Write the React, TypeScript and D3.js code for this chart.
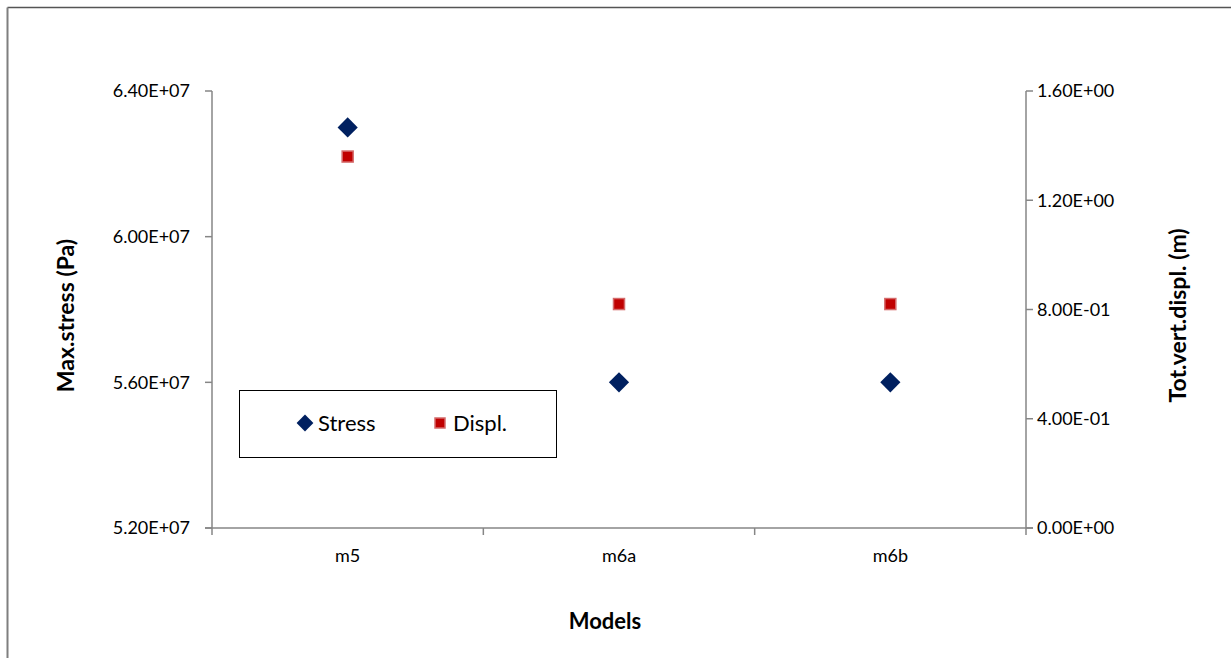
import React from "react";
import * as d3 from "d3";

const categories = ["m5", "m6a", "m6b"];
const stressValues = [6.3e7, 5.6e7, 5.6e7];
const displValues = [1.36, 0.82, 0.82];
const leftTicks = [5.2e7, 5.6e7, 6.0e7, 6.4e7];
const rightTicks = [0, 0.4, 0.8, 1.2, 1.6];
const seriesNames = ["Stress", "Displ."];

const W = 1231;
const H = 658;
const plot = { left: 212, right: 1026, top: 91, bottom: 528 };
const font = "Lato, 'Open Sans', sans-serif";
const axisColor = "#868686";

function fmtExp(v: number): string {
  const s = v.toExponential(2).toUpperCase();
  const m = s.match(/^(-?[\d.]+)E([+-])(\d+)$/);
  if (!m) return s;
  return `${m[1]}E${m[2]}${m[3].padStart(2, "0")}`;
}

export default function App() {
  const x = d3
    .scaleBand<string>()
    .domain(categories)
    .range([plot.left, plot.right])
    .padding(0);
  const yL = d3.scaleLinear().domain([5.2e7, 6.4e7]).range([plot.bottom, plot.top]);
  const yR = d3.scaleLinear().domain([0, 1.6]).range([plot.bottom, plot.top]);
  const diamond = d3.symbol().type(d3.symbolDiamond2).size(260)();
  const bw = x.bandwidth();
  const boundaries = [...categories.map((c) => x(c) as number), plot.right];

  return (
    <svg
      width={W}
      height={H}
      style={{ position: "absolute", left: 0, top: 0, background: "#fff" }}
    >
      <line x1={7.5} y1={7.5} x2={W} y2={7.5} stroke="#555" strokeWidth={1.5} />
      <line x1={7.5} y1={7.5} x2={7.5} y2={H} stroke="#7f7f7f" strokeWidth={2} />

      {/* left axis */}
      <line x1={plot.left} y1={plot.top} x2={plot.left} y2={plot.bottom} stroke={axisColor} strokeWidth={1.5} />
      {leftTicks.map((t) => (
        <g key={"l" + t}>
          <line x1={plot.left - 7} x2={plot.left} y1={yL(t)} y2={yL(t)} stroke={axisColor} strokeWidth={1.5} />
          <text x={190} y={yL(t)} dy="0.35em" textAnchor="end" fontFamily={font} fontSize={18} fill="#000">
            {fmtExp(t)}
          </text>
        </g>
      ))}

      {/* right axis */}
      <line x1={plot.right} y1={plot.top} x2={plot.right} y2={plot.bottom} stroke={axisColor} strokeWidth={1.5} />
      {rightTicks.map((t) => (
        <g key={"r" + t}>
          <line x1={plot.right} x2={plot.right + 7} y1={yR(t)} y2={yR(t)} stroke={axisColor} strokeWidth={1.5} />
          <text x={1037} y={yR(t)} dy="0.35em" textAnchor="start" fontFamily={font} fontSize={18} fill="#000">
            {fmtExp(t)}
          </text>
        </g>
      ))}

      {/* bottom axis */}
      <line x1={plot.left - 7} y1={plot.bottom} x2={plot.right + 7} y2={plot.bottom} stroke={axisColor} strokeWidth={1.5} />
      {boundaries.map((b, i) => (
        <line key={"b" + i} x1={b} x2={b} y1={plot.bottom} y2={plot.bottom + 7} stroke={axisColor} strokeWidth={1.5} />
      ))}
      {categories.map((c) => (
        <text
          key={c}
          x={(x(c) as number) + bw / 2}
          y={556}
          dy="0.35em"
          textAnchor="middle"
          fontFamily={font}
          fontSize={18}
          fill="#000"
        >
          {c}
        </text>
      ))}

      {/* axis titles */}
      <text x={605} y={621} dy="0.35em" textAnchor="middle" fontFamily={font} fontSize={22} fontWeight="bold">
        Models
      </text>
      <text
        transform={`translate(66,${(plot.top + plot.bottom) / 2 + 6}) rotate(-90)`}
        textAnchor="middle"
        dy="0.35em"
        fontFamily={font}
        fontSize={23}
        fontWeight="bold"
      >
        Max.stress (Pa)
      </text>
      <text
        transform={`translate(1178,${(plot.top + plot.bottom) / 2 + 6}) rotate(-90)`}
        textAnchor="middle"
        dy="0.35em"
        fontFamily={font}
        fontSize={23}
        fontWeight="bold"
      >
        Tot.vert.displ. (m)
      </text>

      {/* Displ. series */}
      {categories.map((c, i) => (
        <rect
          key={"d" + c}
          x={(x(c) as number) + bw / 2 - 5.5}
          y={yR(displValues[i]) - 5.5}
          width={11}
          height={11}
          fill="#C00000"
          stroke="#D46A6A"
          strokeWidth={1.5}
        />
      ))}
      {/* Stress series */}
      {categories.map((c, i) => (
        <path
          key={"s" + c}
          d={diamond as string}
          transform={`translate(${(x(c) as number) + bw / 2},${yL(stressValues[i])})`}
          fill="#002060"
        />
      ))}

      {/* legend */}
      <rect x={239.5} y={390.5} width={317} height={67} fill="#fff" stroke="#000" strokeWidth={1} />
      <path d={d3.symbol().type(d3.symbolDiamond2).size(180)() as string} transform="translate(305,423)" fill="#002060" />
      <text x={318} y={423} dy="0.35em" fontFamily={font} fontSize={22} fill="#000">
        {seriesNames[0]}
      </text>
      <rect x={435} y={418} width={10} height={10} fill="#C00000" stroke="#D46A6A" strokeWidth={1.5} />
      <text x={453} y={423} dy="0.35em" fontFamily={font} fontSize={22} fill="#000">
        {seriesNames[1]}
      </text>
    </svg>
  );
}
